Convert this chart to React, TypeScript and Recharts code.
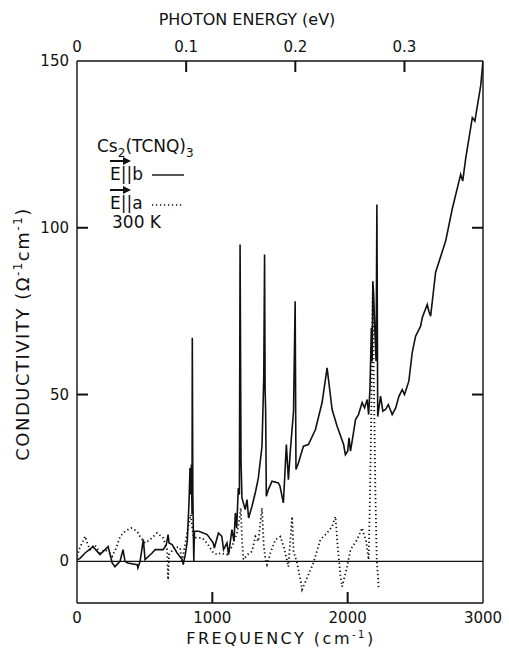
import { LineChart, Line, XAxis, YAxis, ReferenceLine } from "recharts";

// E || b (solid) : frequency (cm^-1) and conductivity (ohm^-1 cm^-1)
const bFreq = [
  0, 20, 60, 118, 170, 230, 260, 280, 318, 340, 355, 375, 445, 450, 466, 490, 503, 555, 578, 637,
  660, 673, 680, 703, 740, 777, 785, 800, 815, 828, 835, 840, 845, 850, 852, 856, 860, 863, 868, 900,
  962, 1007, 1015, 1045, 1070, 1083, 1108, 1120, 1145, 1160, 1170, 1180, 1192, 1200, 1205, 1212, 1219, 1243, 1256, 1268,
  1293, 1320, 1340, 1367, 1380, 1386, 1390, 1394, 1399, 1414, 1441, 1488, 1500, 1525, 1547, 1562, 1577, 1600, 1612, 1618,
  1636, 1673, 1710, 1762, 1811, 1848, 1885, 1922, 1970, 1983, 2000, 2010, 2021, 2043, 2058, 2080, 2107, 2125, 2144, 2155,
  2165, 2175, 2181, 2186, 2192, 2200, 2210, 2216, 2222, 2243, 2260, 2280, 2300, 2329, 2355, 2378, 2403, 2420, 2452, 2477,
  2502, 2539, 2551, 2588, 2600, 2613, 2650, 2724, 2773, 2835, 2850, 2872, 2921, 2940, 2983, 3000,
];
const bSigma = [
  0.5, 0.8, 2.5, 4.4, 2, 4.4, -0.5, -1.6, 0, 3.5, 0, -0.5, -1, -2, 0, 6.5, 0.5, 2.5, 3.5, 3.5,
  5, 8, 5.5, 5, 2.5, 0.5, -1, 2, 6, 18, 28, 20, 29, 14, 67, 20, 8, 0, 9, 9,
  8, 5.5, 4, 8.5, 7.5, 3.5, 5.5, 2, 9.5, 6, 14.5, 10, 22, 20, 95, 30, 19, 15.5, 18.5, 13,
  16.5, 21, 25, 34.5, 55, 92, 51.5, 45, 19.5, 21.5, 24, 23.5, 22.5, 17.5, 35, 24.5, 33.5, 45, 78, 27.5,
  29.5, 34.5, 35, 39.5, 47.6, 58, 45.5, 40.5, 35, 32, 33, 37, 33, 38.6, 42.5, 44, 47.6, 46, 48.5, 44,
  52, 70, 60, 84, 80, 70, 60, 107, 43.4, 49.5, 45, 45.5, 47, 44, 46, 49.4, 51.5, 50, 54, 62.6,
  67.5, 70.5, 73, 77, 75, 73.5, 86.7, 96, 105.7, 116, 114, 120.7, 133, 132, 142.6, 150,
];

// E || a (dotted)
const aFreq = [
  0, 20, 44, 60, 80, 96, 130, 170, 207, 240, 260, 290, 318, 355, 400, 444, 466, 503, 540, 592,
  637, 666, 673, 680, 725, 762, 775, 790, 822, 840, 860, 886, 925, 960, 1008, 1040, 1060, 1108, 1145, 1182,
  1200, 1210, 1220, 1230, 1260, 1293, 1318, 1340, 1367, 1380, 1392, 1404, 1429, 1466, 1503, 1530, 1562, 1589, 1600, 1626,
  1651, 1663, 1700, 1747, 1798, 1848, 1885, 1910, 1925, 1947, 1959, 1996, 2021, 2070, 2107, 2120, 2135, 2155, 2165, 2175,
  2185, 2195, 2205, 2215, 2230,
];
const aSigma = [
  1.4, 4, 6, 7.5, 5, 3.5, 5, 2.5, 3.5, 2.5, 1.5, 4, 7.4, 9, 10, 9, 7.4, 5.5, 6.5, 8.5,
  7, 3.5, -5.5, 2, 4.4, 4, -0.5, 3, 10.4, 14, 7.4, 7, 7, 5.5, 2.5, 2, 2.5, 2, 4.4, 8.5,
  12.5, 16, 6, 0.5, 2, 3, 7.4, 6, 16, 5, 0.5, -1, 2.5, 6.5, 7.4, 4, -1.6, 13.4, 3, -0.5,
  -5.5, -8.5, -5, -0.5, 6.5, 8.5, 10.4, 13.4, 5, -4.6, -7.6, -1.6, 3.5, 6.5, 10, 8, 6.5, 0.5, 20, 45,
  80, 50, 20, 0.5, -8.5,
];

const freqTicks = [0, 1000, 2000, 3000];
const sigmaTicks = [0, 50, 100, 150];
const energyTicks = [0, 0.1, 0.2, 0.3];
const CM_PER_EV = 8065.5;

const bData = bFreq.map((f, i) => ({ f, s: bSigma[i] }));
const aData = aFreq.map((f, i) => ({ f, s: aSigma[i] }));

const X_DOMAIN = [0, 3000];
const Y_DOMAIN = [-12.5, 150];

const W = 509;
const H = 648;
const LEFT = 77;
const TOP = 61;
const RIGHT = 483;
const BOTTOM = 603;
const AX = 30; // room reserved by each axis
const TICK = 11;
const FONT = "'DejaVu Sans', sans-serif";
const INK = "#111";

// same linear maps as the chart's plot area, used for the inward tick marks
const px = (v: number) => LEFT + ((v - X_DOMAIN[0]) / (X_DOMAIN[1] - X_DOMAIN[0])) * (RIGHT - LEFT);
const py = (v: number) => BOTTOM - ((v - Y_DOMAIN[0]) / (Y_DOMAIN[1] - Y_DOMAIN[0])) * (BOTTOM - TOP);

const innerFreq = freqTicks.filter((v) => v > X_DOMAIN[0] && v < X_DOMAIN[1]);
const innerEnergy = energyTicks.filter((e) => e > 0).map((e) => e * CM_PER_EV);
const innerSigma = sigmaTicks.filter((v) => v > 0 && v < Y_DOMAIN[1]);

function BottomTick({ payload }: any) {
  return (
    <text x={payload.coordinate} y={BOTTOM + 20} textAnchor="middle" fontSize={15} fontFamily={FONT} fill={INK}>
      {payload.value}
    </text>
  );
}

function TopTick({ payload }: any) {
  const ev = Math.round((payload.value / CM_PER_EV) * 10) / 10;
  return (
    <text x={payload.coordinate} y={TOP - 9} textAnchor="middle" fontSize={15} fontFamily={FONT} fill={INK}>
      {ev === 0 ? "0" : ev.toFixed(1)}
    </text>
  );
}

function LeftTick({ payload }: any) {
  return (
    <text x={LEFT - 8} y={payload.coordinate + 5} textAnchor="end" fontSize={15} fontFamily={FONT} fill={INK}>
      {payload.value}
    </text>
  );
}

function NoLabel() {
  return <g />;
}

export default function App() {
  return (
    <div style={{ position: "absolute", left: 0, top: 0, width: W, height: H, background: "#fff" }}>
      <LineChart
        width={W}
        height={H}
        margin={{ top: TOP - AX, right: W - RIGHT - AX, bottom: H - BOTTOM - AX, left: LEFT - AX }}
      >
        <XAxis
          xAxisId="bottom"
          dataKey="f"
          type="number"
          domain={X_DOMAIN}
          ticks={freqTicks}
          interval={0}
          height={AX}
          allowDataOverflow
          axisLine={{ stroke: INK, strokeWidth: 1.4 }}
          tickLine={false}
          tick={<BottomTick />}
        />
        <XAxis
          xAxisId="top"
          orientation="top"
          dataKey="f"
          type="number"
          domain={X_DOMAIN}
          ticks={energyTicks.map((e) => e * CM_PER_EV)}
          interval={0}
          height={AX}
          allowDataOverflow
          axisLine={{ stroke: INK, strokeWidth: 1.4 }}
          tickLine={false}
          tick={<TopTick />}
        />
        <YAxis
          yAxisId="left"
          type="number"
          domain={Y_DOMAIN}
          ticks={sigmaTicks}
          interval={0}
          width={AX}
          allowDataOverflow
          axisLine={{ stroke: INK, strokeWidth: 1.4 }}
          tickLine={false}
          tick={<LeftTick />}
        />
        <YAxis
          yAxisId="right"
          orientation="right"
          type="number"
          domain={Y_DOMAIN}
          ticks={innerSigma}
          interval={0}
          width={AX}
          allowDataOverflow
          axisLine={{ stroke: INK, strokeWidth: 1.4 }}
          tickLine={false}
          tick={<NoLabel />}
        />
        <ReferenceLine xAxisId="bottom" yAxisId="left" y={0} stroke={INK} strokeWidth={1.3} />
        {/* invisible copy so the top and right axes get a scale */}
        <Line
          xAxisId="top"
          yAxisId="right"
          data={bData}
          dataKey="s"
          type="linear"
          stroke="none"
          dot={false}
          activeDot={false}
          isAnimationActive={false}
        />
        <Line
          xAxisId="bottom"
          yAxisId="left"
          data={aData}
          dataKey="s"
          type="linear"
          stroke={INK}
          strokeWidth={1.8}
          strokeDasharray="1.3 2.7"
          dot={false}
          isAnimationActive={false}
        />
        <Line
          xAxisId="bottom"
          yAxisId="left"
          data={bData}
          dataKey="s"
          type="linear"
          stroke={INK}
          strokeWidth={1.6}
          dot={false}
          isAnimationActive={false}
        />
      </LineChart>
      <svg
        width={W}
        height={H}
        style={{ position: "absolute", left: 0, top: 0, pointerEvents: "none" }}
        fontFamily={FONT}
        fill={INK}
      >
        {innerFreq.map((v) => (
          <line key={`b${v}`} x1={px(v)} x2={px(v)} y1={BOTTOM} y2={BOTTOM - TICK} stroke={INK} strokeWidth={2} />
        ))}
        {innerEnergy.map((v) => (
          <line key={`t${v}`} x1={px(v)} x2={px(v)} y1={TOP} y2={TOP + TICK} stroke={INK} strokeWidth={2} />
        ))}
        {innerSigma.map((v) => (
          <line key={`l${v}`} x1={LEFT} x2={LEFT + TICK} y1={py(v)} y2={py(v)} stroke={INK} strokeWidth={2} />
        ))}
        {innerSigma.map((v) => (
          <line key={`r${v}`} x1={RIGHT - TICK} x2={RIGHT} y1={py(v)} y2={py(v)} stroke={INK} strokeWidth={2} />
        ))}
        <text x={247} y={25} textAnchor="middle" fontSize={16}>
          PHOTON ENERGY (eV)
        </text>
        <text x={281} y={644} textAnchor="middle" fontSize={16} letterSpacing={2.5}>
          FREQUENCY (cm<tspan dy={-6} fontSize={10}>-1</tspan>
          <tspan dy={6}>)</tspan>
        </text>
        <text
          x={29}
          y={334}
          textAnchor="middle"
          fontSize={18}
          letterSpacing={1.5}
          transform="rotate(-90 29 334)"
        >
          CONDUCTIVITY (Ω<tspan dy={-7} fontSize={12}>-1</tspan>
          <tspan dy={7}>cm</tspan>
          <tspan dy={-7} fontSize={12}>-1</tspan>
          <tspan dy={7}>)</tspan>
        </text>
        <text x={97} y={152} fontSize={17}>
          Cs<tspan dy={5} fontSize={12}>2</tspan>
          <tspan dy={-5}>(TCNQ)</tspan>
          <tspan dy={5} fontSize={12}>3</tspan>
        </text>
        <line x1={110} x2={124} y1={161} y2={161} stroke={INK} strokeWidth={2} />
        <polygon points="123,157 131,161 123,165" fill={INK} />
        <text x={110} y={180} fontSize={17}>E||b</text>
        <line x1={152} x2={184} y1={175} y2={175} stroke={INK} strokeWidth={1.4} />
        <line x1={110} x2={124} y1={190} y2={190} stroke={INK} strokeWidth={2} />
        <polygon points="123,186 131,190 123,194" fill={INK} />
        <text x={110} y={209} fontSize={17}>E||a</text>
        <line x1={152} x2={184} y1={205} y2={205} stroke={INK} strokeWidth={1.5} strokeDasharray="1.3 2.7" />
        <text x={112} y={228} fontSize={17}>300 K</text>
      </svg>
    </div>
  );
}
